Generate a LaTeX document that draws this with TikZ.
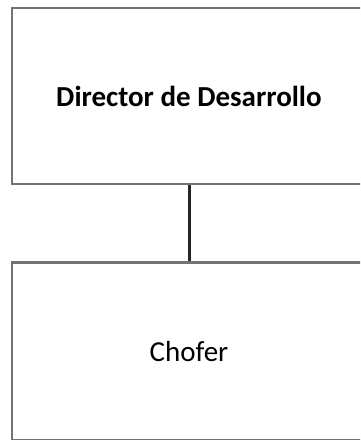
\documentclass[tikz,border=0pt]{standalone}
\usepackage{fontspec}
\setmainfont{Carlito}
\usetikzlibrary{positioning}

\tikzset{
  puesto/.style={draw=black!55, line width=2.5pt, fill=white,
    minimum width=354pt, minimum height=176pt, inner sep=0pt,
    font=\fontsize{29}{34}\selectfont},
  enlace/.style={draw=black!85, line width=3pt}
}

\begin{document}
\begin{tikzpicture}[x=1pt,y=-1pt]
    \useasboundingbox (0,0) rectangle (360,440);
    \clip (0,0) rectangle (360,440);
    % organigrama de dos puestos
    \node[puesto, font=\fontsize{29}{34}\selectfont\bfseries] (director) at (189,96) {Director de Desarrollo};
    \node[puesto, minimum height=178pt, below=76pt of director] (chofer) {Chofer};
    \draw[enlace] (director) -- (chofer);
\end{tikzpicture}
\end{document}
